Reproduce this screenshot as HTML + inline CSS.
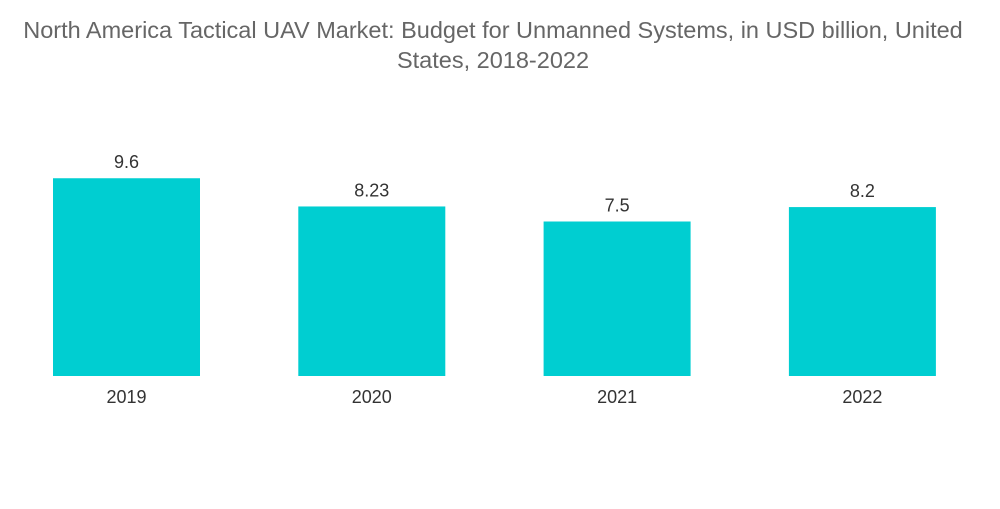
<!DOCTYPE html>
<html><head><meta charset="utf-8"><style>
body{margin:0;background:#fff;width:1000px;height:504px;overflow:hidden;font-family:"Liberation Sans",sans-serif}
</style></head><body>
<svg width="1000" height="504">
<text x="493" y="38" text-anchor="middle" font-size="23.5" fill="#666">North America Tactical UAV Market: Budget for Unmanned Systems, in USD billion, United</text>
<text x="493" y="68" text-anchor="middle" font-size="23.5" fill="#666">States, 2018-2022</text>
<g id="bars"></g>
</svg>
<script>
const categories=["2019","2020","2021","2022"];
const values=[9.6,8.23,7.5,8.2];
const labels=["9.6","8.23","7.5","8.2"];
const baseY=376, pxPerUnit=20.6, x0=53, step=245.3, bw=147;
const yScale=v=>baseY-v*pxPerUnit;
const xScale=i=>x0+i*step;
const g=document.getElementById('bars');
const ns="http://www.w3.org/2000/svg";
categories.forEach((c,i)=>{
  const r=document.createElementNS(ns,'rect');
  
  
  r.setAttribute('x',xScale(i));r.setAttribute('y',yScale(values[i]));
  r.setAttribute('width',bw);r.setAttribute('height',baseY-yScale(values[i]));
  r.setAttribute('fill','#00ced1');g.appendChild(r);
  const t=document.createElementNS(ns,'text');
  
  
  t.setAttribute('x',xScale(i)+bw/2);t.setAttribute('y',yScale(values[i])-10);
  t.setAttribute('text-anchor','middle');t.setAttribute('font-size','18');t.setAttribute('fill','#333');
  t.textContent=labels[i];g.appendChild(t);
  const a=document.createElementNS(ns,'text');
  
  
  a.setAttribute('x',xScale(i)+bw/2);a.setAttribute('y',403);
  a.setAttribute('text-anchor','middle');a.setAttribute('font-size','18');a.setAttribute('fill','#333');
  a.textContent=c;g.appendChild(a);
});
</script>
</body></html>
